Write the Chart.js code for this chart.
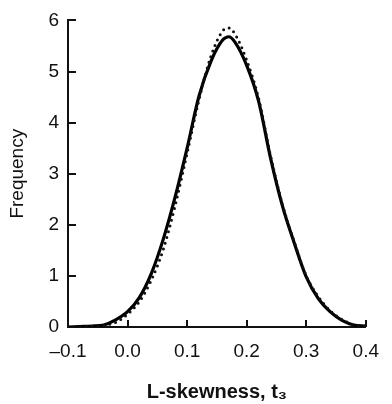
<!DOCTYPE html>
<html>
<head>
<meta charset="utf-8">
<script src="https://cdn.jsdelivr.net/npm/chart.js@4"></script>
<style>
  html, body { margin: 0; padding: 0; background: #fff; }
  #wrap { width: 392px; height: 404px; }
</style>
</head>
<body>
<div id="wrap"><canvas id="myChart" width="392" height="404"></canvas></div>
<script>
// L-skewness values (x) and the two frequency curves
const tValues = [-0.10, -0.08, -0.06, -0.04, -0.02, 0.00, 0.02, 0.04, 0.06, 0.08, 0.10, 0.12, 0.14,
    0.16, 0.17, 0.18, 0.20, 0.22, 0.24, 0.26, 0.28, 0.30, 0.32, 0.34, 0.36, 0.38, 0.40];
const solidFreq = [0, 0.01, 0.02, 0.04, 0.14, 0.30, 0.58, 1.05, 1.72, 2.55, 3.50, 4.52, 5.20,
    5.62, 5.68, 5.58, 5.12, 4.42, 3.31, 2.37, 1.64, 0.98, 0.56, 0.30, 0.13, 0.04, 0.02];
const dottedFreq = [0, 0, 0.01, 0.03, 0.09, 0.25, 0.50, 0.92, 1.52, 2.38, 3.40, 4.45, 5.30,
    5.80, 5.85, 5.74, 5.22, 4.48, 3.36, 2.40, 1.66, 1.00, 0.60, 0.32, 0.15, 0.04, 0.01];
const xTicks = [0.0, 0.1, 0.2, 0.3, 0.4];
const yTicks = [1, 2, 3, 4, 5, 6];

const FONT = "'Liberation Sans', Arial, Helvetica, sans-serif";

function toPoints(ys) {
    return tValues.map((t, i) => ({ x: t, y: ys[i] }));
}

// draws short tick marks pointing into the plot area
const innerTicks = {
    id: 'innerTicks',
    afterDraw(chart) {
        const ctx = chart.ctx;
        const xs = chart.scales.x;
        const ys = chart.scales.y;
        ctx.save();
        ctx.strokeStyle = '#111';
        ctx.lineWidth = 2;
        ctx.beginPath();
        yTicks.forEach(v => {
            const py = Math.round(ys.getPixelForValue(v));
            ctx.moveTo(xs.left, py);
            ctx.lineTo(xs.left + 8, py);
        });
        xTicks.forEach(v => {
            const px = Math.round(xs.getPixelForValue(v));
            ctx.moveTo(px, ys.bottom);
            ctx.lineTo(px, ys.bottom - 7);
        });
        ctx.stroke();
        ctx.restore();
    }
};

const data = {
    datasets: [{
        label: 'dotted',
        data: toPoints(dottedFreq),
        borderColor: '#111',
        borderWidth: 3,
        borderDash: [0, 6],
        borderCapStyle: 'round',
        cubicInterpolationMode: 'monotone',
        pointRadius: 0,
        fill: false
    },
    {
        label: 'solid',
        data: toPoints(solidFreq),
        borderColor: '#000',
        borderWidth: 3.2,
        cubicInterpolationMode: 'monotone',
        pointRadius: 0,
        fill: false
    }]
};

const config = {
    type: 'line',
    data: data,
    options: {
        responsive: false,
        animation: false,
        layout: { padding: { top: 15, right: 18, left: 0, bottom: 0 } },
        plugins: {
            legend: { display: false },
            tooltip: { enabled: false }
        },
        scales: {
            x: {
                type: 'linear',
                min: -0.1,
                max: 0.4,
                afterFit: s => { s.height = 77; },
                border: { display: true, color: '#111', width: 2 },
                grid: { display: true, drawOnChartArea: false, drawTicks: false },
                ticks: {
                    stepSize: 0.1,
                    padding: 13,
                    color: '#111',
                    font: { family: FONT, size: 19 },
                    maxRotation: 0,
                    callback: v => (v < -0.001 ? '\u2013' : '') + Math.abs(v).toFixed(1)
                },
                title: {
                    display: true,
                    text: 'L-skewness, t\u2083',
                    color: '#111',
                    font: { family: FONT, size: 20, weight: 'bold' },
                    padding: { top: 0, bottom: 0 }
                }
            },
            y: {
                min: 0,
                max: 6,
                afterFit: s => { s.width = 68; },
                border: { display: true, color: '#111', width: 2 },
                grid: { display: true, drawOnChartArea: false, drawTicks: false },
                ticks: {
                    stepSize: 1,
                    padding: 9,
                    color: '#111',
                    font: { family: FONT, size: 19 }
                },
                title: {
                    display: true,
                    text: 'Frequency',
                    color: '#111',
                    font: { family: FONT, size: 19 },
                    padding: { top: 6, bottom: 0 }
                }
            }
        }
    },
    plugins: [innerTicks]
};

const myChart = new Chart(document.getElementById('myChart'), config);
</script>
</body>
</html>
